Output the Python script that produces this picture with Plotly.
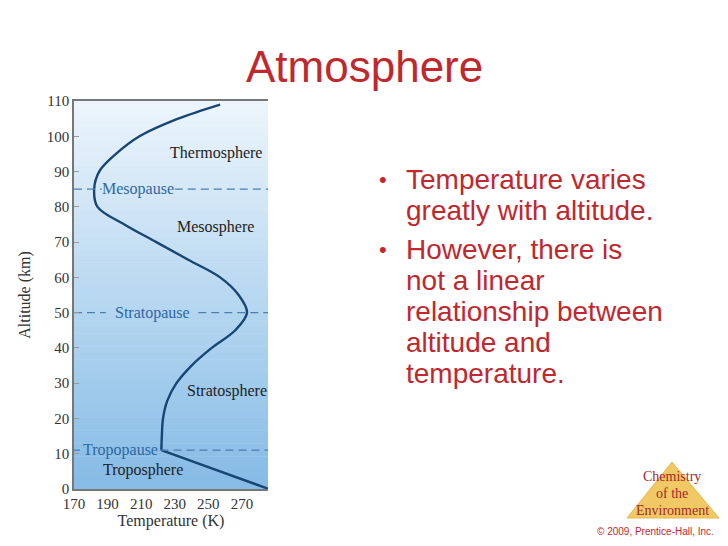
import plotly.graph_objects as go

# Atmospheric temperature profile (altitude km -> temperature K)
tropo_alt = [0, 11]
tropo_temp = [286, 222]
upper_alt = [11, 15, 20, 25, 30, 35, 40, 45, 50, 55, 60, 65, 70, 75, 80, 85, 90, 95, 100, 105, 109]
upper_temp = [222, 222.3, 223, 225.5, 231, 240, 252, 266, 273, 268, 257, 238, 219, 200, 184, 182, 185, 195, 209, 232, 257]

# boundary layers: name, altitude, gap in the dashes where the label sits (K)
pause_names = ["Mesopause", "Stratopause", "Tropopause"]
pause_alt = [85, 50, 11]
pause_gaps = [(186.5, 230), (189, 244), (173.5, 221.5)]

layer_names = ["Thermosphere", "Mesosphere", "Stratosphere", "Troposphere"]
layer_x = [254.5, 254, 261, 211]
layer_y = [95.3, 74.3, 27.8, 5.4]

x_ticks = [170, 190, 210, 230, 250, 270]
y_ticks = list(range(0, 111, 10))

bullets = [
    ("•", "Temperature varies"),
    ("", "greatly with altitude."),
    ("•", "However, there is"),
    ("", "not a linear"),
    ("", "relationship between"),
    ("", "altitude and"),
    ("", "temperature."),
]
bullet_y = [179, 210, 249, 280, 311, 342, 373]

# page body has an 8px margin, so the figure is drawn 8px in from the window edge
OFF = 8
W, H = 728 - 2 * OFF, 546 - 2 * OFF
XMIN, XMAX = 170, 285.5
SERIF = "Liberation Serif"
RED = "#c0282e"
DASH_BLUE = "#4a7fb3"


def px(x):
    return (x - OFF) / W


def py(y):
    return 1 - (y - OFF) / H


fig = go.Figure()

fig.add_trace(go.Scatter(x=tropo_temp, y=tropo_alt, mode="lines",
                         line=dict(color="#174675", width=2.4), showlegend=False))
fig.add_trace(go.Scatter(x=upper_temp, y=upper_alt, mode="lines",
                         line=dict(color="#174675", width=2.4, shape="spline", smoothing=1.0),
                         showlegend=False))

# dashed boundary lines, broken where the label sits
for name, alt, (g0, g1) in zip(pause_names, pause_alt, pause_gaps):
    fig.add_trace(go.Scatter(x=[XMIN, g0, None, g1, XMAX], y=[alt, alt, None, alt, alt],
                             mode="lines", line=dict(color=DASH_BLUE, width=1.3, dash="8px,5px"),
                             showlegend=False, connectgaps=False))
    fig.add_annotation(x=(g0 + g1) / 2, y=alt, text=name, showarrow=False,
                       font=dict(family=SERIF, size=16, color="#2f68a3"),
                       xanchor="center", yanchor="middle")

for name, x, y in zip(layer_names, layer_x, layer_y):
    fig.add_annotation(x=x, y=y, text=name, showarrow=False,
                       xanchor="center", yanchor="middle",
                       font=dict(family=SERIF, size=16, color="#222222"))

# gradient background of plot area
dx0, dx1 = px(74), px(268)
dy0, dy1 = py(489), py(101)
top = (236, 245, 252)
bot = (134, 188, 230)
n = 60
for i in range(n):
    t = i / (n - 1)
    c = tuple(int(bot[k] + (top[k] - bot[k]) * t) for k in range(3))
    fig.add_shape(type="rect", xref="paper", yref="paper", layer="below",
                  x0=dx0, x1=dx1, y0=dy0 + (dy1 - dy0) * i / n,
                  y1=dy0 + (dy1 - dy0) * (i + 1) / n + 0.001,
                  line_width=0, fillcolor="rgb(%d,%d,%d)" % c)

# title and bullet text
fig.add_annotation(x=px(364), y=py(67), xref="paper", yref="paper", text="Atmosphere",
                   showarrow=False, xanchor="center", yanchor="middle",
                   font=dict(family="Liberation Sans", size=44, color=RED))
for (b, txt), y in zip(bullets, bullet_y):
    if b:
        fig.add_annotation(x=px(383), y=py(y), xref="paper", yref="paper", text=b,
                           showarrow=False, xanchor="center", yanchor="middle",
                           font=dict(family="Liberation Sans", size=22, color=RED))
    fig.add_annotation(x=px(404), y=py(y), xref="paper", yref="paper", text=txt,
                       showarrow=False, xanchor="left", yanchor="middle",
                       font=dict(family="Liberation Sans", size=28, color=RED))

# publisher logo
tri = "M %f %f L %f %f L %f %f Z" % (px(672), py(462), px(627), py(518), px(719), py(518))
fig.add_shape(type="path", xref="paper", yref="paper", path=tri,
              fillcolor="#f1c964", line=dict(color="#e8b84a", width=1), layer="below")
for txt, y in zip(["Chemistry", "of the", "Environment"], [476, 493, 510]):
    fig.add_annotation(x=px(672), y=py(y), xref="paper", yref="paper", text=txt,
                       showarrow=False, xanchor="center", yanchor="middle",
                       font=dict(family=SERIF, size=14, color="#a3282b"))
fig.add_annotation(x=px(716), y=py(531), xref="paper", yref="paper",
                   text="© 2009, Prentice-Hall, Inc.", showarrow=False,
                   xanchor="right", yanchor="middle",
                   font=dict(family="Liberation Sans", size=10, color=RED))

fig.update_layout(
    width=W, height=H,
    margin=dict(l=0, r=0, t=0, b=0, autoexpand=False),
    paper_bgcolor="white", plot_bgcolor="rgba(0,0,0,0)",
    xaxis=dict(domain=[dx0, dx1], range=[XMIN, XMAX], tickvals=x_ticks, automargin=False,
               showgrid=False, zeroline=False, showline=True, linecolor="#777777",
               linewidth=1.5, mirror=True, ticks="", ticklabelstandoff=0,
               tickfont=dict(family=SERIF, size=15, color="#333333"),
               title=dict(text="Temperature (K)", standoff=4,
                          font=dict(family=SERIF, size=16, color="#333333"))),
    yaxis=dict(domain=[dy0, dy1], range=[0, 110], tickvals=y_ticks, automargin=False,
               showgrid=False, zeroline=False, showline=True, linecolor="#777777",
               linewidth=1.5, ticks="inside", ticklen=5, tickcolor="#999999",
               tickfont=dict(family=SERIF, size=15, color="#333333"),
               title=dict(text="Altitude (km)", standoff=12,
                          font=dict(family=SERIF, size=16, color="#333333"))),
)

fig.write_html("out.html")
